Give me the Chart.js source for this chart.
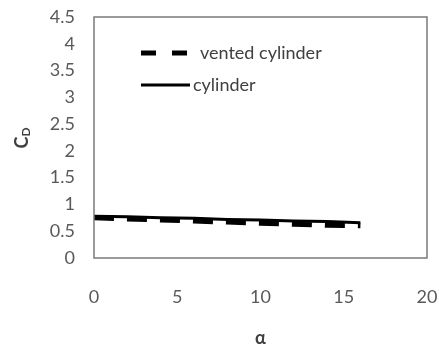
<!DOCTYPE html>
<html>
<head>
<meta charset="utf-8">
<script src="https://cdn.jsdelivr.net/npm/chart.js@4/dist/chart.umd.min.js"></script>
<style>
  html, body { margin: 0; padding: 0; background: #fff; }
  #wrap { width: 439px; height: 349px; }
</style>
</head>
<body>
<div id="wrap"><canvas id="c" width="439" height="349"></canvas></div>
<script>
const alpha = [0, 2, 4, 6, 8, 10, 12, 14, 16];
const ventedCd = [0.75, 0.73, 0.71, 0.69, 0.67, 0.65, 0.63, 0.61, 0.60];
const cylinderCd = [0.78, 0.77, 0.75, 0.74, 0.72, 0.71, 0.69, 0.68, 0.66];
const seriesNames = ['vented cylinder', 'cylinder'];
const yTicks = [0, 0.5, 1, 1.5, 2, 2.5, 3, 3.5, 4, 4.5];
const xTicks = [0, 5, 10, 15, 20];

const FONT = 'Lato, "Open Sans", sans-serif';
const GREY = '#595959';

const toPoints = (ys) => alpha.map((a, i) => ({x: a, y: ys[i]}));

// frame round the plot, legend in the plot, C_D title with subscript
const decor = {
    id: 'decor',
    afterDraw(chart) {
        const {ctx, chartArea: a} = chart;
        ctx.save();
        ctx.strokeStyle = '#7a7a7a';
        ctx.lineWidth = 1.5;
        ctx.strokeRect(a.left, a.top, a.right - a.left, a.bottom - a.top);

        // legend
        const rows = [
            {y: 53, x0: 141, x1: 188, tx: 200},
            {y: 85, x0: 141, x1: 190, tx: 193}
        ];
        chart.data.datasets.forEach((ds, i) => {
            const r = rows[i];
            ctx.beginPath();
            ctx.strokeStyle = ds.borderColor;
            ctx.lineWidth = ds.borderWidth;
            ctx.setLineDash(i === 0 ? [15, 16] : []);
            ctx.moveTo(r.x0, r.y);
            ctx.lineTo(r.x1, r.y);
            ctx.stroke();
            ctx.setLineDash([]);
            ctx.fillStyle = '#404040';
            ctx.font = '18px ' + FONT;
            ctx.textBaseline = 'middle';
            ctx.textAlign = 'left';
            ctx.fillText(ds.label, r.tx, r.y);
        });

        // y title: C with subscript D
        ctx.translate(22, 138);
        ctx.rotate(-Math.PI / 2);
        ctx.fillStyle = '#404040';
        ctx.textBaseline = 'middle';
        ctx.textAlign = 'left';
        ctx.font = 'bold 18px ' + FONT;
        const w = ctx.measureText('C').width;
        ctx.font = 'bold 12px ' + FONT;
        const wd = ctx.measureText('D').width;
        const start = -(w + wd) / 2;
        ctx.font = 'bold 18px ' + FONT;
        ctx.fillText('C', start, 0);
        ctx.font = 'bold 12px ' + FONT;
        ctx.fillText('D', start + w, 4);
        ctx.restore();
    }
};

new Chart(document.getElementById('c'), {
    type: 'line',
    data: {
        datasets: [
            {
                label: seriesNames[0],
                data: toPoints(ventedCd),
                borderColor: '#000',
                borderWidth: 5,
                borderDash: [20, 13],
                borderCapStyle: 'butt',
                pointRadius: 0,
                fill: false,
                tension: 0
            },
            {
                label: seriesNames[1],
                data: toPoints(cylinderCd),
                borderColor: '#000',
                borderWidth: 3,
                pointRadius: 0,
                fill: false,
                tension: 0
            }
        ]
    },
    options: {
        responsive: false,
        animation: false,
        layout: {padding: {top: 17, right: 12, left: 0, bottom: 0}},
        plugins: {
            legend: {display: false},
            tooltip: {enabled: false}
        },
        scales: {
            x: {
                type: 'linear',
                min: 0,
                max: 20,
                afterFit: (s) => { s.height = 91; s.paddingLeft = 0; s.paddingRight = 0; },
                afterBuildTicks: (s) => { s.ticks = xTicks.map(v => ({value: v})); },
                grid: {display: false, drawTicks: false},
                border: {display: false},
                ticks: {
                    padding: 28,
                    color: GREY,
                    font: {family: FONT, size: 18},
                    maxRotation: 0
                },
                title: {
                    display: true,
                    text: 'α',
                    color: '#404040',
                    font: {family: FONT, size: 18, weight: 'bold'},
                    padding: {top: 12, bottom: 0}
                }
            },
            y: {
                type: 'linear',
                min: 0,
                max: 4.5,
                afterFit: (s) => { s.width = 94; s.paddingTop = 0; s.paddingBottom = 0; },
                afterBuildTicks: (s) => { s.ticks = yTicks.map(v => ({value: v})); },
                grid: {display: false, drawTicks: false},
                border: {display: false},
                ticks: {
                    padding: 19,
                    color: GREY,
                    font: {family: FONT, size: 18},
                    callback: (v) => String(v)
                }
            }
        }
    },
    plugins: [decor]
});
</script>
</body>
</html>
